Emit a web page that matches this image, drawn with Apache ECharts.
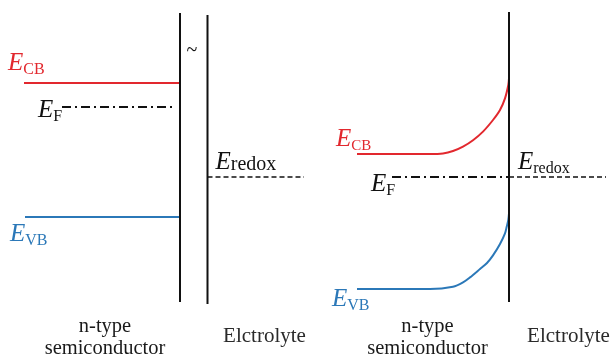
<!DOCTYPE html>
<html><head><meta charset="utf-8">
<script src="https://cdn.jsdelivr.net/npm/echarts@6/dist/echarts.min.js"></script>
<style>html,body{margin:0;padding:0;background:#fff}#c{width:612px;height:360px}</style>
</head><body><div id="c"></div>
<script>
// ---- data (position along x in arbitrary units, interface = 0; energy in arbitrary units, E_redox = 0)
// Left panel: before contact
const ecbLeft = [[-15.6, 4.7], [0, 4.7]];
const efLeft = [[-11.8, 3.5], [-0.4, 3.5]];
const evbLeft = [[-15.5, -2.0], [0, -2.0]];
const surfaceLeft = [[0, 8.2], [0, -6.25]];
const electrolyteEdgeLeft = [[2.75, 8.1], [2.75, -6.35]];
const eredoxLeft = [[2.75, 0], [12.4, 0]];
// Right panel: after equilibrium (band bending)
const ecbRight = [[-15.2, 1.15], [-7.9, 1.15], [-6.6, 1.18], [-5.6, 1.3], [-4.6, 1.52], [-3.6, 1.84], [-2.6, 2.27], [-1.6, 2.85], [-0.9, 3.35], [-0.4, 3.93], [-0.07, 4.6], [0, 4.93]];
const evbRight = [[-15.2, -5.6], [-7.9, -5.6], [-5.6, -5.49], [-4.6, -5.27], [-3.9, -5.02], [-2.9, -4.6], [-2.2, -4.3], [-1.6, -3.92], [-0.9, -3.35], [-0.4, -2.82], [-0.23, -2.49], [-0.07, -2.15], [0, -1.82]];
const efRight = [[-11.7, 0], [0, 0]];
const eredoxRight = [[0, 0], [9.7, 0]];
const surfaceRight = [[0, 8.25], [0, -6.25]];
// text
const regionLabels = ['n-type\nsemiconductor', 'Elctrolyte'];

const RED = '#e2282e', BLUE = '#2b78b8', BLACK = '#111111';
const chart = echarts.init(document.getElementById('c'), null, {renderer: 'canvas'});

function ln(data, gi, color, width, type, smooth) {
  return {
    type: 'line', data: data, xAxisIndex: gi, yAxisIndex: gi, symbol: 'none', silent: true,
    smooth: smooth ? 0.3 : false,
    lineStyle: {color: color, width: width, type: type || 'solid', cap: 'butt'},
    animation: false, z: 2
  };
}
const yAx = gi => ({type: 'value', gridIndex: gi, min: -6.5, max: 8.5, show: false});
chart.setOption({
  animation: false,
  backgroundColor: '#ffffff',
  grid: [
    {left: 0, top: 7, width: 310, height: 300},
    {left: 309, top: 7, width: 300, height: 300}
  ],
  xAxis: [
    {type: 'value', gridIndex: 0, min: -18, max: 13, show: false},
    {type: 'value', gridIndex: 1, min: -20, max: 10, show: false}
  ],
  yAxis: [yAx(0), yAx(1)],
  series: [
    ln(ecbLeft, 0, RED, 2),
    ln(efLeft, 0, BLACK, 1.8, [9, 4, 2, 4]),
    ln(evbLeft, 0, BLUE, 2),
    ln(surfaceLeft, 0, BLACK, 2),
    ln(electrolyteEdgeLeft, 0, BLACK, 2),
    ln(eredoxLeft, 0, BLACK, 1.6, [5, 3]),
    ln(ecbRight, 1, RED, 2, 'solid', true),
    ln(evbRight, 1, BLUE, 2, 'solid', true),
    ln(efRight, 1, BLACK, 1.8, [9, 4, 2, 4]),
    ln(eredoxRight, 1, BLACK, 1.6, [5, 3]),
    ln(surfaceRight, 1, BLACK, 2)
  ]
});

const SERIF = '"Liberation Serif", "Times New Roman", serif';
const EFS = 25;
const px = (gi, p) => chart.convertToPixel({gridIndex: gi}, p);

// E with subscript; anchor = point on a line, (dx, dy) = offset of label left edge / E baseline
function eLabel(gi, anchor, dx, dy, sub, subSize, pb, color) {
  const p = px(gi, anchor);
  return {
    type: 'text', silent: true, z: 10,
    x: p[0] + dx, y: p[1] + dy + 0.195 * EFS + pb,
    style: {
      text: '{e|E}{s|' + sub + '}',
      align: 'left', verticalAlign: 'bottom',
      fill: color,
      rich: {
        e: {font: 'italic ' + EFS + 'px ' + SERIF, lineHeight: EFS, padding: [0, 0, pb, 0], verticalAlign: 'bottom', fill: color},
        s: {font: subSize + 'px ' + SERIF, lineHeight: subSize, verticalAlign: 'bottom', fill: color}
      }
    }
  };
}
function plain(gi, anchor, dx, dy, text, size, va, color) {
  const p = px(gi, anchor);
  return {
    type: 'text', silent: true, z: 10, x: p[0] + dx, y: p[1] + dy,
    style: {text: text, font: size + 'px ' + SERIF, lineHeight: 22, align: 'center', verticalAlign: va, fill: color}
  };
}

chart.setOption({
  graphic: [
    eLabel(0, ecbLeft[0], -16, -12, 'CB', 16, 2, RED),
    eLabel(0, efLeft[0], -24, 11, 'F', 16, 2, BLACK),
    eLabel(0, evbLeft[0], -15, 25, 'VB', 16, 2, BLUE),
    eLabel(0, eredoxLeft[0], 8, -7, 'redox', 20, 0, BLACK),
    eLabel(1, ecbRight[0], -21, -7, 'CB', 15, 2, RED),
    eLabel(1, efRight[0], -21, 15, 'F', 16, 2, BLACK),
    eLabel(1, evbRight[0], -25, 18, 'VB', 16, 2, BLUE),
    eLabel(1, eredoxRight[0], 9, -7, 'redox', 16, 1.5, BLACK),
    plain(0, surfaceLeft[0], 12, 38, '~', 20, 'middle', BLACK),
    plain(0, [-7.5, -6.5], 0, 9, regionLabels[0], 20.5, 'top', '#1a1a1a'),
    plain(0, [8.45, -6.5], 0, 29, regionLabels[1], 21, 'middle', '#2a2a2a'),
    plain(1, [-8.15, -6.5], 0, 9, regionLabels[0], 20.5, 'top', '#1a1a1a'),
    plain(1, [5.95, -6.5], 0, 29, regionLabels[1], 21, 'middle', '#2a2a2a')
  ]
});
</script>
</body></html>
